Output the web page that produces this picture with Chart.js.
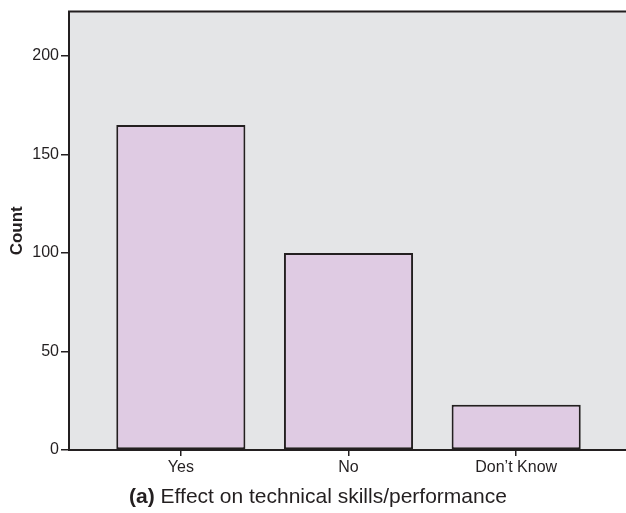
<!DOCTYPE html>
<html>
<head>
<meta charset="utf-8">
<script src="https://cdn.jsdelivr.net/npm/chart.js@4/dist/chart.umd.min.js"></script>
<style>
  html, body { margin: 0; padding: 0; background: #ffffff; }
  #wrap { position: relative; width: 626px; height: 513px; }
  #caption {
    position: absolute; left: 0; width: 636px; top: 484px;
    text-align: center; font-family: "Liberation Sans", Arial, sans-serif;
    font-size: 21px; color: #231f20; white-space: nowrap; line-height: 24px;
  }
</style>
</head>
<body>
<div id="wrap">
  <canvas id="c" width="626" height="513"></canvas>
  <div id="caption"><b>(a)</b> Effect on technical skills/performance</div>
</div>
<script>
const categories = ["Yes", "No", "Don\u2019t Know"];
const counts = [165, 100, 23];
const yTicks = [0, 50, 100, 150, 200];
const yAxisTitle = "Count";

const ink = "#231f20";
const sans = "'Liberation Sans', Arial, sans-serif";

const plotBg = {
  id: "plotBg",
  beforeDraw(chart) {
    const { ctx, chartArea: a } = chart;
    ctx.save();
    ctx.fillStyle = "#e4e5e7";
    ctx.fillRect(a.left, a.top, a.right - a.left, a.bottom - a.top);
    ctx.restore();
  },
  afterDraw(chart) {
    const { ctx, chartArea: a } = chart;
    ctx.save();
    ctx.strokeStyle = ink;
    ctx.lineWidth = 2;
    ctx.beginPath();
    ctx.moveTo(a.left - 1, a.top);
    ctx.lineTo(a.right, a.top);
    ctx.stroke();
    ctx.restore();
  }
};

new Chart(document.getElementById("c"), {
  type: "bar",
  data: {
    datasets: [{
      data: counts.map((v, i) => ({ x: i, y: v })),
      backgroundColor: "#dfcbe3",
      borderColor: ink,
      borderWidth: 2,
      borderSkipped: false,
      categoryPercentage: 1,
      barPercentage: 0.77
    }]
  },
  options: {
    responsive: false,
    animation: false,
    events: [],
    layout: { padding: { top: 11, right: 0, left: 0, bottom: 0 } },
    plugins: { legend: { display: false }, tooltip: { enabled: false } },
    scales: {
      x: {
        type: "linear",
        offset: false,
        min: -0.667,
        max: 2.655,
        afterBuildTicks(scale) { scale.ticks = categories.map((_, i) => ({ value: i })); },
        afterFit(scale) { scale.height = 63; },
        ticks: {
          callback: (v) => categories[v],
          color: ink,
          font: { family: sans, size: 16 },
          padding: 2,
          maxRotation: 0,
          autoSkip: false
        },
        grid: { offset: false, drawOnChartArea: false, drawTicks: true, tickLength: 6, color: ink, lineWidth: 1.5 },
        border: { display: true, color: ink, width: 2 }
      },
      y: {
        min: 0,
        max: 222.5,
        afterBuildTicks(scale) { scale.ticks = yTicks.map(v => ({ value: v })); },
        afterFit(scale) { scale.width = 69; },
        ticks: {
          color: ink,
          font: { family: sans, size: 16 },
          padding: 2
        },
        grid: { drawOnChartArea: false, drawTicks: true, tickLength: 8, color: ink, lineWidth: 1.5 },
        border: { display: true, color: ink, width: 2 },
        title: {
          display: true,
          text: yAxisTitle,
          color: ink,
          font: { family: sans, size: 17, weight: "bold" },
          padding: { top: 7, bottom: 0 }
        }
      }
    }
  },
  plugins: [plotBg]
});
</script>
</body>
</html>
